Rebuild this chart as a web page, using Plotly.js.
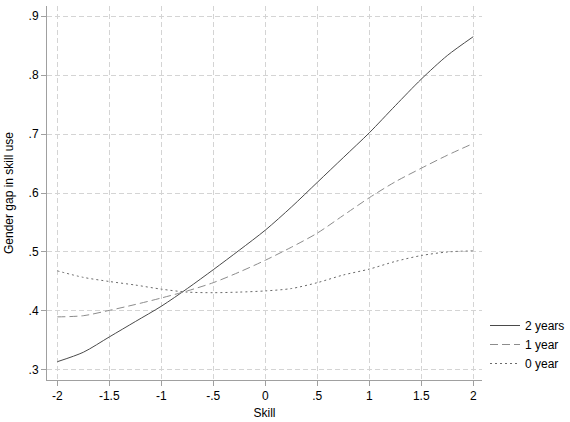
<!DOCTYPE html>
<html>
<head>
<meta charset="utf-8">
<script src="https://cdn.plot.ly/plotly-3.0.1.min.js"></script>
<style>html,body{margin:0;padding:0;background:#fff;}#chart{width:570px;height:422px;}</style>
</head>
<body>
<div id="chart"></div>
<script>
const skill = [-2, -1.75, -1.5, -1.25, -1, -0.75, -0.5, -0.25, 0, 0.25, 0.5, 0.75, 1, 1.25, 1.5, 1.75, 2];
const twoYears = [0.314, 0.330, 0.356, 0.382, 0.408, 0.438, 0.470, 0.503, 0.537, 0.576, 0.618, 0.660, 0.702, 0.748, 0.793, 0.833, 0.865];
const oneYear  = [0.390, 0.392, 0.401, 0.411, 0.422, 0.434, 0.448, 0.466, 0.486, 0.508, 0.532, 0.562, 0.592, 0.619, 0.642, 0.664, 0.684];
const zeroYear = [0.468, 0.457, 0.450, 0.444, 0.437, 0.432, 0.431, 0.432, 0.434, 0.438, 0.448, 0.461, 0.471, 0.484, 0.494, 0.500, 0.502];
const seriesNames = ["2 years", "1 year", "0 year"];
const xTickVals = [-2, -1.5, -1, -0.5, 0, 0.5, 1, 1.5, 2];
const xTickText = ["-2", "-1.5", "-1", "-.5", "0", ".5", "1", "1.5", "2"];
const yTickVals = [0.3, 0.4, 0.5, 0.6, 0.7, 0.8, 0.9];
const yTickText = [".3", ".4", ".5", ".6", ".7", ".8", ".9"];

const traces = [
  {x: skill, y: twoYears, name: seriesNames[0], mode: "lines", line: {color: "#4a4a4a", width: 1, shape: "spline", smoothing: 0.8, dash: "solid"}},
  {x: skill, y: oneYear, name: seriesNames[1], mode: "lines", line: {color: "#8c8c8c", width: 1, shape: "spline", smoothing: 0.8, dash: "8px,4px"}},
  {x: skill, y: zeroYear, name: seriesNames[2], mode: "lines", line: {color: "#6a6a6a", width: 1, shape: "spline", smoothing: 0.8, dash: "2px,3px"}}
];

const axisCommon = {
  showline: true, linecolor: "#a0a0a0", linewidth: 1,
  ticks: "outside", ticklen: 5, tickcolor: "#a0a0a0", tickwidth: 1,
  showgrid: true, gridcolor: "#d4d4d4", gridwidth: 1, griddash: "5px,3px",
  zeroline: false, automargin: false,
  tickfont: {family: "Arial, Liberation Sans, sans-serif", size: 12, color: "#000"},
  mirror: false
};

const layout = {
  width: 570, height: 422,
  margin: {l: 47, r: 88, t: 6, b: 42, pad: 0},
  paper_bgcolor: "#fff", plot_bgcolor: "#fff",
  font: {family: "Arial, Liberation Sans, sans-serif", size: 12, color: "#000"},
  xaxis: Object.assign({}, axisCommon, {
    range: [-2.099, 2.084], tickvals: xTickVals, ticktext: xTickText,
    title: {text: "Skill", font: {size: 12, color: "#000"}, standoff: 6}
  }),
  yaxis: Object.assign({}, axisCommon, {
    range: [0.283, 0.917], tickvals: yTickVals, ticktext: yTickText,
    title: {text: "Gender gap in skill use", font: {size: 12, color: "#000"}, standoff: 12}
  }),
  showlegend: true,
  legend: {
    xref: "container", yref: "container",
    x: 485 / 570, xanchor: "left", y: 1 - 311 / 422, yanchor: "top",
    font: {size: 12, color: "#000"}, itemwidth: 30, tracegroupgap: 0,
    bgcolor: "rgba(0,0,0,0)"
  }
};

Plotly.newPlot("chart", traces, layout, {displayModeBar: false, staticPlot: true});
</script>
</body>
</html>
